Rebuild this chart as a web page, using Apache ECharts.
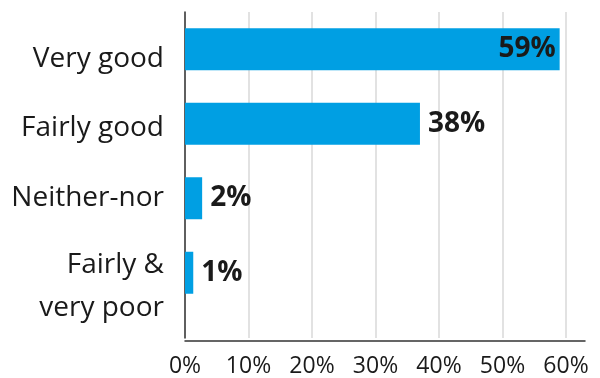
<!DOCTYPE html>
<html>
<head>
<meta charset="utf-8">
<script src="https://cdn.jsdelivr.net/npm/echarts@6/dist/echarts.min.js"></script>
<style>
html,body{margin:0;padding:0;background:#fff;}
#chart{width:600px;height:378px;}
</style>
</head>
<body>
<div id="chart"></div>
<script>
var categories = ['Very good', 'Fairly good', 'Neither-nor', 'Fairly &\nvery poor'];
var values = [59, 37, 2.7, 1.3];
var valueLabels = ['59%', '38%', '2%', '1%'];
var tickValues = [0, 10, 20, 30, 40, 50, 60];

var FONT = '"Open Sans", "Noto Sans", sans-serif';
var TEXT = '#1a1a1a';
var BAR = '#009fe3';

// small vertical nudges for the category labels (layout only)
var labelShift = {'Very good': 's10', 'Fairly good': 's4', 'Neither-nor': 's0', 'Fairly &\nvery poor': 's14'};

var chart = echarts.init(document.getElementById('chart'), null, {renderer: 'canvas'});

var barData = values.map(function (v, i) {
  return {
    value: v,
    label: v > 50 ? {position: 'insideRight', distance: 4} : {position: 'right', distance: 8}
  };
});

function rich(d) {
  return {fontFamily: FONT, fontSize: 28, color: TEXT, lineHeight: 43, padding: [2 * d, 0, 0, 0], align: 'right'};
}

chart.setOption({
  animation: false,
  backgroundColor: '#fff',
  grid: [
    {left: 185, right: 34, top: 12, bottom: 68},
    {left: 185, right: 34, top: 12, bottom: 37},
    {left: 185, right: 15, top: 12, bottom: 37}
  ],
  xAxis: [
    {gridIndex: 0, type: 'value', min: tickValues[0], max: tickValues[tickValues.length - 1], interval: 10,
     axisLine: {show: false}, axisTick: {show: false}, axisLabel: {show: false}, splitLine: {show: false}},
    {gridIndex: 1, type: 'value', min: tickValues[0], max: tickValues[tickValues.length - 1], interval: 10,
     axisLine: {show: false}, axisTick: {show: false},
     axisLabel: {formatter: '{value}%', fontFamily: FONT, fontSize: 23, color: TEXT, margin: 17},
     splitLine: {show: true, lineStyle: {color: '#e2e2e2', width: 2}}},
    {gridIndex: 2, type: 'value', min: 0, max: 1,
     axisLine: {show: true, onZero: false, lineStyle: {color: '#333', width: 1.5}},
     axisTick: {show: false}, axisLabel: {show: false}, splitLine: {show: false}}
  ],
  yAxis: [
    {gridIndex: 0, type: 'category', data: categories, inverse: true,
     axisLine: {show: false}, axisTick: {show: false},
     axisLabel: {
       interval: 0,
       fontFamily: FONT, fontSize: 28, color: TEXT, margin: 21, lineHeight: 43, align: 'right',
       formatter: function (v) {
         var k = labelShift[v];
         return v.split('\n').map(function (l) { return '{' + k + '|' + l + '}'; }).join('\n');
       },
       rich: {s0: rich(0), s4: rich(4), s10: rich(10), s14: rich(14)}
     }},
    {gridIndex: 1, type: 'value', min: 0, max: 1,
     axisLine: {show: true, lineStyle: {color: '#333', width: 1.5}},
     axisTick: {show: false}, axisLabel: {show: false}, splitLine: {show: false}},
    {gridIndex: 2, type: 'value', show: false, min: 0, max: 1}
  ],
  series: [{
    type: 'bar',
    xAxisIndex: 0,
    yAxisIndex: 0,
    data: barData,
    barWidth: 42,
    itemStyle: {color: BAR},
    z: 5,
    label: {
      show: true,
      fontFamily: FONT,
      fontSize: 28,
      fontWeight: 'bold',
      color: TEXT,
      formatter: function (p) { return valueLabels[p.dataIndex]; }
    }
  }]
});
</script>
</body>
</html>
